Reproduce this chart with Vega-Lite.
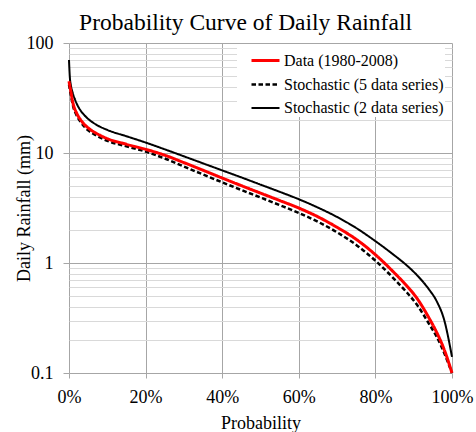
{
  "$schema": "https://vega.github.io/schema/vega-lite/v6.json",
  "width": 383,
  "height": 330,
  "autosize": {"type": "none"},
  "padding": {"left": 69, "top": 43, "right": 24, "bottom": 59},
  "background": "white",
  "config": {"font": "'Liberation Serif', 'Times New Roman', Times, 'DejaVu Serif', serif", "view": {"stroke": null}},
  "title": {"text": "Probability Curve of Daily Rainfall", "fontSize": 23.5, "font": "'Liberation Serif', 'Times New Roman', Times, 'DejaVu Serif', serif", "fontWeight": "normal", "color": "black", "anchor": "middle", "dx": -15, "offset": 0},
  "data": {"values": [
    {"series": "Stochastic (2 data series)", "p": 0, "rain": 70},
    {"series": "Stochastic (2 data series)", "p": 0.002, "rain": 50},
    {"series": "Stochastic (2 data series)", "p": 0.005, "rain": 41},
    {"series": "Stochastic (2 data series)", "p": 0.01, "rain": 35},
    {"series": "Stochastic (2 data series)", "p": 0.02, "rain": 28.2},
    {"series": "Stochastic (2 data series)", "p": 0.03, "rain": 24.4},
    {"series": "Stochastic (2 data series)", "p": 0.04, "rain": 22.1},
    {"series": "Stochastic (2 data series)", "p": 0.05, "rain": 20.4},
    {"series": "Stochastic (2 data series)", "p": 0.07, "rain": 18.2},
    {"series": "Stochastic (2 data series)", "p": 0.10, "rain": 16.2},
    {"series": "Stochastic (2 data series)", "p": 0.15, "rain": 14.2},
    {"series": "Stochastic (2 data series)", "p": 0.20, "rain": 12.45},
    {"series": "Stochastic (2 data series)", "p": 0.25, "rain": 10.8},
    {"series": "Stochastic (2 data series)", "p": 0.30, "rain": 9.33},
    {"series": "Stochastic (2 data series)", "p": 0.35, "rain": 8.05},
    {"series": "Stochastic (2 data series)", "p": 0.40, "rain": 6.95},
    {"series": "Stochastic (2 data series)", "p": 0.45, "rain": 6.0},
    {"series": "Stochastic (2 data series)", "p": 0.50, "rain": 5.16},
    {"series": "Stochastic (2 data series)", "p": 0.55, "rain": 4.44},
    {"series": "Stochastic (2 data series)", "p": 0.60, "rain": 3.80},
    {"series": "Stochastic (2 data series)", "p": 0.65, "rain": 3.19},
    {"series": "Stochastic (2 data series)", "p": 0.70, "rain": 2.62},
    {"series": "Stochastic (2 data series)", "p": 0.75, "rain": 2.08},
    {"series": "Stochastic (2 data series)", "p": 0.80, "rain": 1.58},
    {"series": "Stochastic (2 data series)", "p": 0.85, "rain": 1.17},
    {"series": "Stochastic (2 data series)", "p": 0.88, "rain": 0.964},
    {"series": "Stochastic (2 data series)", "p": 0.91, "rain": 0.766},
    {"series": "Stochastic (2 data series)", "p": 0.94, "rain": 0.575},
    {"series": "Stochastic (2 data series)", "p": 0.96, "rain": 0.45},
    {"series": "Stochastic (2 data series)", "p": 0.98, "rain": 0.30},
    {"series": "Stochastic (2 data series)", "p": 1, "rain": 0.14},
    {"series": "Stochastic (5 data series)", "p": 0, "rain": 42},
    {"series": "Stochastic (5 data series)", "p": 0.002, "rain": 38},
    {"series": "Stochastic (5 data series)", "p": 0.005, "rain": 33.5},
    {"series": "Stochastic (5 data series)", "p": 0.01, "rain": 27.3},
    {"series": "Stochastic (5 data series)", "p": 0.02, "rain": 21.9},
    {"series": "Stochastic (5 data series)", "p": 0.03, "rain": 19.2},
    {"series": "Stochastic (5 data series)", "p": 0.04, "rain": 17.4},
    {"series": "Stochastic (5 data series)", "p": 0.05, "rain": 16.1},
    {"series": "Stochastic (5 data series)", "p": 0.07, "rain": 14.5},
    {"series": "Stochastic (5 data series)", "p": 0.10, "rain": 12.9},
    {"series": "Stochastic (5 data series)", "p": 0.15, "rain": 11.5},
    {"series": "Stochastic (5 data series)", "p": 0.20, "rain": 10.3},
    {"series": "Stochastic (5 data series)", "p": 0.25, "rain": 8.91},
    {"series": "Stochastic (5 data series)", "p": 0.30, "rain": 7.53},
    {"series": "Stochastic (5 data series)", "p": 0.35, "rain": 6.38},
    {"series": "Stochastic (5 data series)", "p": 0.40, "rain": 5.41},
    {"series": "Stochastic (5 data series)", "p": 0.45, "rain": 4.61},
    {"series": "Stochastic (5 data series)", "p": 0.50, "rain": 3.94},
    {"series": "Stochastic (5 data series)", "p": 0.55, "rain": 3.36},
    {"series": "Stochastic (5 data series)", "p": 0.60, "rain": 2.85},
    {"series": "Stochastic (5 data series)", "p": 0.65, "rain": 2.37},
    {"series": "Stochastic (5 data series)", "p": 0.70, "rain": 1.90},
    {"series": "Stochastic (5 data series)", "p": 0.75, "rain": 1.46},
    {"series": "Stochastic (5 data series)", "p": 0.80, "rain": 1.05},
    {"series": "Stochastic (5 data series)", "p": 0.85, "rain": 0.71},
    {"series": "Stochastic (5 data series)", "p": 0.88, "rain": 0.55},
    {"series": "Stochastic (5 data series)", "p": 0.91, "rain": 0.41},
    {"series": "Stochastic (5 data series)", "p": 0.94, "rain": 0.28},
    {"series": "Stochastic (5 data series)", "p": 0.96, "rain": 0.214},
    {"series": "Stochastic (5 data series)", "p": 0.98, "rain": 0.151},
    {"series": "Stochastic (5 data series)", "p": 1, "rain": 0.1},
    {"series": "Data (1980-2008)", "p": 0, "rain": 45},
    {"series": "Data (1980-2008)", "p": 0.002, "rain": 41},
    {"series": "Data (1980-2008)", "p": 0.005, "rain": 36},
    {"series": "Data (1980-2008)", "p": 0.01, "rain": 28.8},
    {"series": "Data (1980-2008)", "p": 0.02, "rain": 23.0},
    {"series": "Data (1980-2008)", "p": 0.03, "rain": 20.1},
    {"series": "Data (1980-2008)", "p": 0.04, "rain": 18.2},
    {"series": "Data (1980-2008)", "p": 0.05, "rain": 16.9},
    {"series": "Data (1980-2008)", "p": 0.07, "rain": 15.2},
    {"series": "Data (1980-2008)", "p": 0.10, "rain": 13.5},
    {"series": "Data (1980-2008)", "p": 0.15, "rain": 12.0},
    {"series": "Data (1980-2008)", "p": 0.20, "rain": 10.8},
    {"series": "Data (1980-2008)", "p": 0.25, "rain": 9.55},
    {"series": "Data (1980-2008)", "p": 0.30, "rain": 8.18},
    {"series": "Data (1980-2008)", "p": 0.35, "rain": 6.97},
    {"series": "Data (1980-2008)", "p": 0.40, "rain": 5.92},
    {"series": "Data (1980-2008)", "p": 0.45, "rain": 5.05},
    {"series": "Data (1980-2008)", "p": 0.50, "rain": 4.32},
    {"series": "Data (1980-2008)", "p": 0.55, "rain": 3.70},
    {"series": "Data (1980-2008)", "p": 0.60, "rain": 3.16},
    {"series": "Data (1980-2008)", "p": 0.65, "rain": 2.63},
    {"series": "Data (1980-2008)", "p": 0.70, "rain": 2.11},
    {"series": "Data (1980-2008)", "p": 0.75, "rain": 1.64},
    {"series": "Data (1980-2008)", "p": 0.80, "rain": 1.19},
    {"series": "Data (1980-2008)", "p": 0.85, "rain": 0.81},
    {"series": "Data (1980-2008)", "p": 0.88, "rain": 0.63},
    {"series": "Data (1980-2008)", "p": 0.91, "rain": 0.47},
    {"series": "Data (1980-2008)", "p": 0.94, "rain": 0.316},
    {"series": "Data (1980-2008)", "p": 0.96, "rain": 0.234},
    {"series": "Data (1980-2008)", "p": 0.98, "rain": 0.162},
    {"series": "Data (1980-2008)", "p": 1, "rain": 0.1}
  ]},
  "mark": {"type": "line", "interpolate": "monotone"},
  "encoding": {
    "x": {
      "field": "p", "type": "quantitative",
      "scale": {"domain": [0, 1], "nice": false},
      "axis": {
        "values": [0, 0.2, 0.4, 0.6, 0.8, 1],
        "format": ".0%",
        "grid": true, "gridColor": "#a6a6a6", "gridWidth": 1,
        "tickColor": "#a6a6a6", "tickSize": 5,
        "domain": false,
        "labelFontSize": 18, "labelColor": "black",
        "labelBaseline": "alphabetic", "labelPadding": 24, "labelFlush": false, "labelOverlap": false,
        "title": "Probability", "titleFontSize": 18, "titleFontWeight": "normal", "titleColor": "black",
        "titleBaseline": "alphabetic", "titleY": 55
      }
    },
    "y": {
      "field": "rain", "type": "quantitative",
      "scale": {"type": "log", "domain": [0.1, 100], "nice": false},
      "axis": {
        "values": [0.1, 0.2, 0.3, 0.4, 0.5, 0.6, 0.7, 0.8, 0.9, 1, 2, 3, 4, 5, 6, 7, 8, 9, 10, 20, 30, 40, 50, 60, 70, 80, 90, 100],
        "labelExpr": "abs(log(datum.value)/LN10 - round(log(datum.value)/LN10)) < 0.01 ? format(datum.value, '~g') : ''",
        "grid": true,
        "gridColor": {"condition": {"test": "abs(log(datum.value)/LN10 - round(log(datum.value)/LN10)) < 0.01", "value": "#a6a6a6"}, "value": "#d9d9d9"},
        "gridWidth": 1,
        "tickColor": "#a6a6a6",
        "tickOpacity": {"condition": {"test": "abs(log(datum.value)/LN10 - round(log(datum.value)/LN10)) < 0.01", "value": 1}, "value": 0},
        "tickSize": 6,
        "domain": false,
        "labelFontSize": 18, "labelColor": "black",
        "labelPadding": 10, "labelOverlap": false, "labelFlush": false, "labelBound": false,
        "title": "Daily Rainfall (mm)", "titleFontSize": 18, "titleFontWeight": "normal", "titleColor": "black",
        "titleX": -36
      }
    },
    "color": {
      "field": "series", "type": "nominal",
      "scale": {"domain": ["Data (1980-2008)", "Stochastic (5 data series)", "Stochastic (2 data series)"], "range": ["#ff0000", "#000000", "#000000"]},
      "legend": {
        "title": null, "orient": "none", "legendX": 168, "legendY": 1, "padding": 1,
        "fillColor": "white", "strokeColor": null,
        "labelFontSize": 16, "labelColor": "black", "labelLimit": 300,
        "symbolType": "stroke", "symbolSize": 784, "symbolOffset": 12, "labelOffset": 3, "rowPadding": -1
      }
    },
    "strokeDash": {
      "field": "series", "type": "nominal",
      "scale": {"domain": ["Data (1980-2008)", "Stochastic (5 data series)", "Stochastic (2 data series)"], "range": [[1, 0], [4.5, 2.5], [1, 0]]}
    },
    "strokeWidth": {
      "field": "series", "type": "nominal",
      "scale": {"domain": ["Data (1980-2008)", "Stochastic (5 data series)", "Stochastic (2 data series)"], "range": [3, 2, 1.2]}
    }
  }
}
